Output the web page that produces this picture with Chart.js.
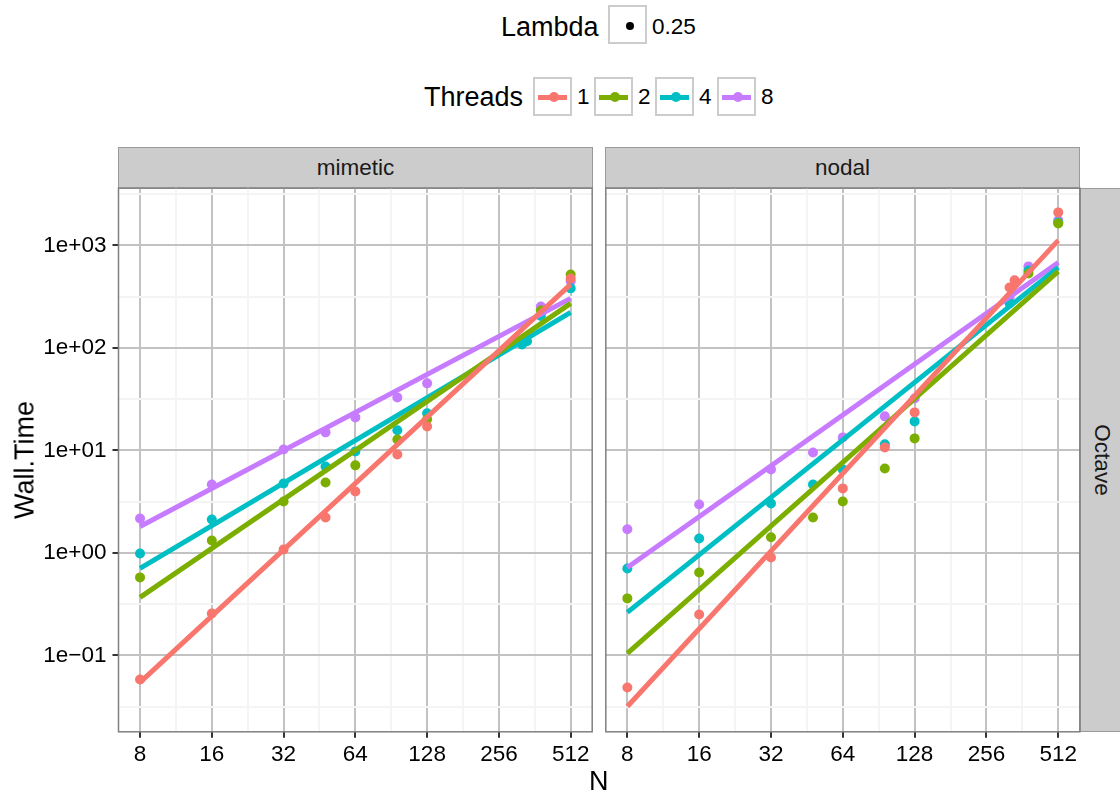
<!DOCTYPE html>
<html>
<head>
<meta charset="utf-8">
<script src="https://cdn.jsdelivr.net/npm/chart.js@4/dist/chart.umd.min.js"></script>
<style>
  body { margin: 0; width: 1120px; height: 793px; background: #fff; position: relative; overflow: hidden;
         font-family: "Liberation Sans", Arial, sans-serif; color: #000; }
  .abs { position: absolute; }
  .strip { position: absolute; background: #cccccc; border: 1px solid #9a9a9a; box-sizing: border-box;
           display: flex; align-items: center; justify-content: center; font-size: 22.5px; color: #1a1a1a; }
  .key { position: absolute; width: 39px; height: 39px; border: 2px solid #cccccc; box-sizing: border-box; background: #fff; }
  .key .ln { position: absolute; left: 3px; right: 3px; top: 15.5px; height: 5px; }
  .key .dt { position: absolute; left: 13.5px; top: 13px; width: 10px; height: 10px; border-radius: 50%; }
  .lab { position: absolute; font-size: 22.5px; line-height: 1; }
  .ttl { position: absolute; font-size: 27px; line-height: 1; }
</style>
</head>
<body>

<div class="ttl" style="left:501px;top:14px;">Lambda</div>
<div class="key" style="left:608px;top:5px;"><div class="dt" style="background:#000;width:8px;height:8px;left:15.5px;top:14.5px;"></div></div>
<div class="lab" style="left:652px;top:16px;">0.25</div>

<div class="ttl" style="left:424px;top:84px;">Threads</div>
<div class="key" style="left:533px;top:77px;"><div class="ln" style="background:#F8766D"></div><div class="dt" style="background:#F8766D"></div></div>
<div class="lab" style="left:577px;top:86px;">1</div>
<div class="key" style="left:594px;top:77px;"><div class="ln" style="background:#7CAE00"></div><div class="dt" style="background:#7CAE00"></div></div>
<div class="lab" style="left:638px;top:86px;">2</div>
<div class="key" style="left:655px;top:77px;"><div class="ln" style="background:#00BFC4"></div><div class="dt" style="background:#00BFC4"></div></div>
<div class="lab" style="left:699px;top:86px;">4</div>
<div class="key" style="left:717px;top:77px;"><div class="ln" style="background:#C77CFF"></div><div class="dt" style="background:#C77CFF"></div></div>
<div class="lab" style="left:761px;top:86px;">8</div>

<div class="strip" style="left:118px;top:147px;width:475px;height:42px;">mimetic</div>
<div class="strip" style="left:605px;top:147px;width:475px;height:42px;">nodal</div>
<div class="strip" style="left:1080px;top:188px;width:44px;height:544px;">
  <span style="transform:rotate(90deg);white-space:nowrap;">Octave</span>
</div>

<canvas id="left" class="abs" width="600" height="600" style="left:0;top:180px;"></canvas>
<canvas id="right" class="abs" width="520" height="600" style="left:600px;top:180px;"></canvas>

<div class="ttl" style="left:589px;top:768px;">N</div>
<div class="ttl" style="left:25px;top:460px;transform:translate(-50%,-50%) rotate(-90deg);white-space:nowrap;">Wall.Time</div>

<script>
const sizes = [8, 16, 32, 48, 64, 96, 128, 320, 336, 384, 512];
const threads = ["1", "2", "4", "8"];
const colors = ["#F8766D", "#7CAE00", "#00BFC4", "#C77CFF"];

// wall time per thread count, mimetic panel
const mimetic1 = [0.0583, 0.257, 1.08, 2.22, 3.98, 9.14, 17.1, null, null, null, 476];
const mimetic2 = [0.577, 1.32, 3.18, 4.87, 7.15, 12.8, 20.1, null, null, 232, 521];
const mimetic4 = [0.989, 2.12, 4.76, 6.98, 9.78, 15.7, 23.0, 108, 116, 205, 381];
const mimetic8 = [2.17, 4.66, 10.2, 15.0, 21.0, 32.9, 45.1, null, null, 254, 446];

// nodal panel
const nodal1 = [0.0487, 0.251, 0.904, null, 4.26, 10.7, 23.5, 389, 456, null, 2099];
const nodal2 = [0.360, 0.645, 1.42, 2.22, 3.18, 6.67, 13.1, null, null, 533, 1640];
const nodal4 = [0.706, 1.38, 3.04, 4.66, 6.53, 11.5, 19.2, 272, null, 570, 1675];
const nodal8 = [1.70, 2.97, 6.53, 9.55, 13.4, 21.5, 32.1, 311, null, 624, 1754];

// fitted lines (log-log), value at N = 8 and N = 512
const fitEnds = [8, 512];
const mimeticFit1 = [0.0545, 417];
const mimeticFit2 = [0.368, 272];
const mimeticFit4 = [0.706, 222];
const mimeticFit8 = [1.81, 304];
const nodalFit1 = [0.0318, 1119];
const nodalFit2 = [0.105, 557];
const nodalFit4 = [0.263, 610];
const nodalFit8 = [0.722, 682];

const xTickLabels = ["8", "16", "32", "64", "128", "256", "512"];
const yTickLabels = ["1e\u221201", "1e+00", "1e+01", "1e+02", "1e+03"];

const xMajor = xTickLabels.map(s => Math.log2(+s));
const yMajor = [-1, 0, 1, 2, 3];
const xTicks = [];
for (let v = 3; v <= 9; v += 0.5) xTicks.push(v);
const yTicks = [];
for (let v = -1.5; v <= 3.5; v += 0.5) yTicks.push(v);

const font = { family: "'Liberation Sans', Arial, sans-serif", size: 22.5 };

const borderPlugin = {
  id: "panelBorder",
  afterDraw(chart) {
    const a = chart.chartArea, c = chart.ctx;
    c.save();
    c.strokeStyle = "#808080";
    c.lineWidth = 1.5;
    c.strokeRect(a.left, a.top, a.right - a.left, a.bottom - a.top);
    c.restore();
  }
};

function datasets(series, fits) {
  const out = [];
  series.forEach((vals, i) => {
    out.push({
      type: "scatter",
      data: sizes.map((n, j) => vals[j] == null ? null : { x: Math.log2(n), y: Math.log10(vals[j]) }).filter(p => p),
      backgroundColor: colors[i], borderWidth: 0, pointRadius: 5, order: 2
    });
  });
  fits.forEach((f, i) => {
    out.push({
      type: "line",
      data: fitEnds.map((n, j) => ({ x: Math.log2(n), y: Math.log10(f[j]) })),
      borderColor: colors[i], borderWidth: 5, pointRadius: 0, order: 1
    });
  });
  return out;
}

function makePanel(id, series, fits, showY, padding) {
  new Chart(document.getElementById(id), {
    data: { datasets: datasets(series, fits) },
    options: {
      responsive: false, animation: false, devicePixelRatio: 1,
      layout: { padding },
      plugins: { legend: { display: false }, tooltip: { enabled: false } },
      scales: {
        x: {
          type: "linear", min: 2.7, max: 9.3,
          afterBuildTicks: s => { s.ticks = xTicks.map(v => ({ value: v })); },
          afterFit: s => { s.height = 48.2; s.paddingLeft = 0; s.paddingRight = 0; },
          border: { display: false },
          grid: {
            color: c => xMajor.includes(c.tick.value) ? "#c2c2c2" : "#f4f4f4",
            lineWidth: 2, tickLength: 6,
            tickColor: c => xMajor.includes(c.tick.value) ? "#333" : "rgba(0,0,0,0)"
          },
          ticks: {
            autoSkip: false, maxRotation: 0, padding: 3, color: "#000", font,
            callback: v => { const k = xMajor.indexOf(v); return k < 0 ? "" : xTickLabels[k]; }
          }
        },
        y: {
          type: "linear", min: -1.745, max: 3.56,
          afterBuildTicks: s => { s.ticks = yTicks.map(v => ({ value: v })); },
          afterFit: s => { s.width = showY ? 118.5 : 0; s.paddingTop = 0; s.paddingBottom = 0; },
          border: { display: false },
          grid: {
            color: c => yMajor.includes(c.tick.value) ? "#c2c2c2" : "#f4f4f4",
            lineWidth: 2, drawTicks: showY, tickLength: 6,
            tickColor: c => yMajor.includes(c.tick.value) ? "#333" : "rgba(0,0,0,0)"
          },
          ticks: {
            display: showY, autoSkip: false, padding: 6, color: "#000", font,
            callback: v => { const k = yMajor.indexOf(v); return k < 0 ? "" : yTickLabels[k]; }
          }
        }
      }
    },
    plugins: [borderPlugin]
  });
}

makePanel("left", [mimetic1, mimetic2, mimetic4, mimetic8],
  [mimeticFit1, mimeticFit2, mimeticFit4, mimeticFit8], true,
  { top: 8, right: 7.8, left: 0, bottom: 0 });
makePanel("right", [nodal1, nodal2, nodal4, nodal8],
  [nodalFit1, nodalFit2, nodalFit4, nodalFit8], false,
  { top: 8, right: 40.2, left: 5.8, bottom: 0 });
</script>
</body>
</html>
